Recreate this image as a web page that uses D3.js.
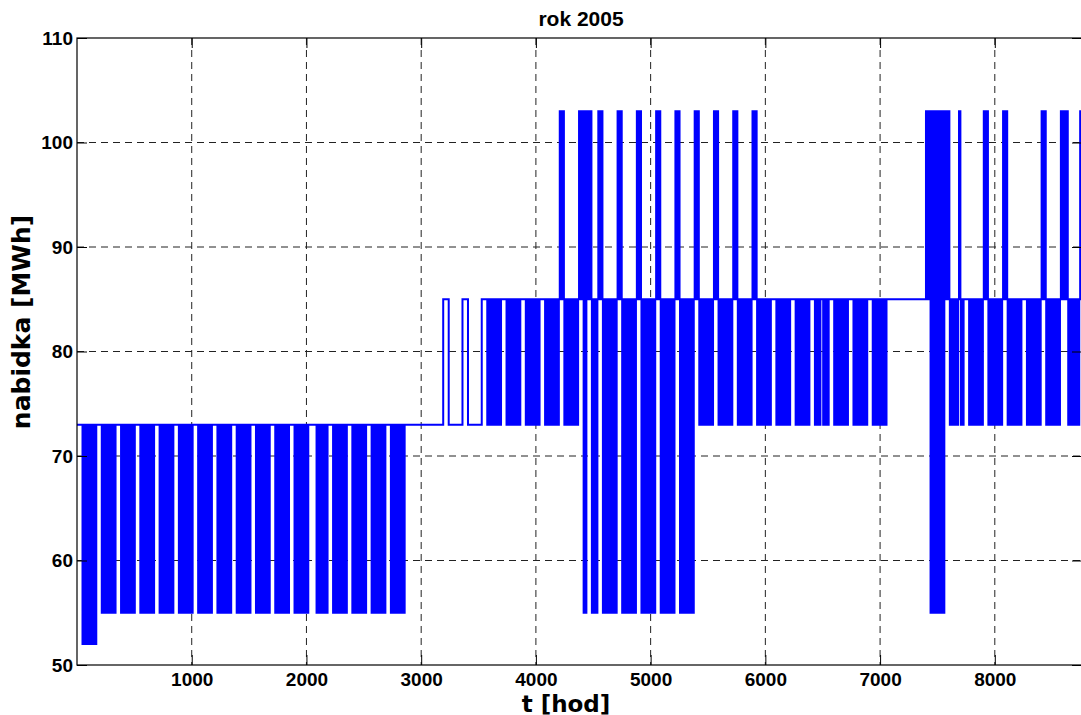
<!DOCTYPE html>
<html>
<head>
<meta charset="utf-8">
<script src="https://cdn.jsdelivr.net/npm/d3@7"></script>
<style>
  body { margin: 0; background: #fff; }
  svg { display: block; font-family: "Liberation Sans", Arial, Helvetica, sans-serif; font-weight: bold; }
  .label { font-family: "DejaVu Sans", Verdana, sans-serif; }
</style>
</head>
<body>
<div id="chart"></div>
<script>
// 2005 starts on a Saturday: day % 7 -> 0 Sat, 1 Sun, 2..6 Mon..Fri
const HOURS_IN_YEAR = 8760;

// public holidays (day of year, 0 = 1 Jan), treated like weekend days
const holidays = [0, 86, 185, 186, 270, 300, 320, 357, 358, 359];

// weekly regimes: [first week, last week, rest day [low, base, high], work day [low, base, high]]
const regimes = [
  [0, 0, [73, 73, 73], [52, 73, 73]],
  [1, 16, [73, 73, 73], [55, 73, 73]],
  [17, 18, [73, 73, 73], [73, 73, 73]],
  [19, 20, [85, 85, 85], [73, 73, 73]],
  [21, 24, [85, 85, 85], [73, 85, 85]],
  [25, 25, [85, 85, 103], [73, 85, 85]],
  [26, 31, [85, 85, 103], [55, 85, 85]],
  [32, 35, [85, 85, 103], [73, 85, 85]],
  [36, 41, [85, 85, 85], [73, 85, 85]],
  [42, 43, [85, 85, 85], [85, 85, 85]],
  [44, 44, [85, 85, 103], [55, 85, 103]],
  [45, 45, [85, 85, 103], [73, 85, 85]],
  [46, 46, [85, 85, 85], [73, 85, 85]],
  [47, 48, [85, 85, 103], [73, 85, 85]],
  [49, 49, [85, 85, 85], [73, 85, 85]],
  [50, 52, [85, 85, 103], [73, 85, 85]],
];

// single days that do not follow their week: [day of year, [low, base, high]]
const dayOverrides = [[184, [55, 85, 103]]];

// hourly shape of one day: -1 low, 0 base, 1 high
const hourShape = [-1, -1, -1, -1, -1, -1, 0, 0, 1, 1, 1, 1, 1, 1, 1, 1, 1, 1, 1, 1, 0, 0, -1, -1];

const xTicks = [1000, 2000, 3000, 4000, 5000, 6000, 7000, 8000];
const yTicks = [50, 60, 70, 80, 90, 100, 110];

const W = 1081, H = 715;
const margin = { top: 38, right: -1, bottom: 50, left: 77 };

const x = d3.scaleLinear().domain([0, HOURS_IN_YEAR]).range([margin.left, W - margin.right]);
const y = d3.scaleLinear().domain([50, 110]).range([H - margin.bottom, margin.top]);

// expand the regimes to an hourly series
const restDays = new Set(holidays);
function levelsFor(day) {
  const o = dayOverrides.find(d => d[0] === day);
  if (o) return o[1];
  const week = Math.floor(day / 7);
  const r = regimes.find(r => week >= r[0] && week <= r[1]);
  const isRest = day % 7 < 2 || restDays.has(day);
  return isRest ? r[2] : r[3];
}
const series = d3.range(HOURS_IN_YEAR).map(h => {
  const lv = levelsFor(Math.floor(h / 24));
  return { t: h, v: lv[hourShape[h % 24] + 1] };
});
series.push({ t: HOURS_IN_YEAR, v: series[series.length - 1].v });

const svg = d3.select("#chart")
  .append("svg")
  .attr("width", W)
  .attr("height", H)
  .attr("viewBox", [0, 0, W, H]);

svg.append("defs").append("clipPath")
  .attr("id", "plot")
  .append("rect")
  .attr("x", x.range()[0])
  .attr("y", y.range()[1])
  .attr("width", x.range()[1] - x.range()[0])
  .attr("height", y.range()[0] - y.range()[1]);

// grid
const grid = svg.append("g")
  .attr("stroke", "#222")
  .attr("stroke-width", 1)
  .attr("stroke-dasharray", "7,5");
grid.selectAll("line.gx")
  .data(xTicks)
  .join("line")
  .attr("x1", d => x(d)).attr("x2", d => x(d))
  .attr("y1", y.range()[1]).attr("y2", y.range()[0]);
grid.selectAll("line.gy")
  .data(yTicks.slice(1, -1))
  .join("line")
  .attr("class", "gy")
  .attr("x1", x.range()[0]).attr("x2", x.range()[1])
  .attr("y1", d => y(d)).attr("y2", d => y(d));

// data line
svg.append("path")
  .datum(series)
  .attr("clip-path", "url(#plot)")
  .attr("fill", "none")
  .attr("stroke", "#0000ff")
  .attr("stroke-width", 2)
  .attr("stroke-linejoin", "miter")
  .attr("d", d3.line().x(d => x(d.t)).y(d => y(d.v)).curve(d3.curveStepAfter));

// axes, ticks pointing inwards
const axisStyle = g => {
  g.select(".domain").remove();
  g.selectAll(".tick line").attr("stroke", "#000");
  g.selectAll("text").attr("font-size", 19).attr("font-weight", "bold").attr("fill", "#000");
};
svg.append("g")
  .attr("transform", `translate(0,${y.range()[0]})`)
  .call(d3.axisBottom(x).tickValues(xTicks).tickFormat(d3.format("d"))
    .tickSizeInner(-10).tickSizeOuter(0).tickPadding(8))
  .call(axisStyle);
svg.append("g")
  .attr("transform", `translate(${x.range()[0]},0)`)
  .call(d3.axisLeft(y).tickValues(yTicks).tickFormat(d3.format("d"))
    .tickSizeInner(-10).tickSizeOuter(0).tickPadding(4))
  .call(axisStyle);
svg.append("g")
  .attr("transform", `translate(0,${y.range()[1]})`)
  .call(d3.axisTop(x).tickValues(xTicks).tickSizeInner(-10).tickSizeOuter(0).tickFormat(""))
  .call(axisStyle);
svg.append("g")
  .attr("transform", `translate(${x.range()[1]},0)`)
  .call(d3.axisRight(y).tickValues(yTicks).tickSizeInner(-10).tickSizeOuter(0).tickFormat(""))
  .call(axisStyle);

// box
svg.append("rect")
  .attr("x", x.range()[0])
  .attr("y", y.range()[1])
  .attr("width", x.range()[1] - x.range()[0])
  .attr("height", y.range()[0] - y.range()[1])
  .attr("fill", "none")
  .attr("stroke", "#000")
  .attr("stroke-width", 1.2);

// labels
svg.append("text")
  .attr("x", 581)
  .attr("y", 26)
  .attr("text-anchor", "middle")
  .attr("font-size", 21)
  .text("rok 2005");
svg.append("text")
  .attr("class", "label")
  .attr("x", 566)
  .attr("y", 711.5)
  .attr("text-anchor", "middle")
  .attr("font-size", 23)
  .text("t [hod]");
svg.append("text")
  .attr("class", "label")
  .attr("transform", "translate(30,322) rotate(-90)")
  .attr("text-anchor", "middle")
  .attr("font-size", 25)
  .text("nabidka [MWh]");
</script>
</body>
</html>
